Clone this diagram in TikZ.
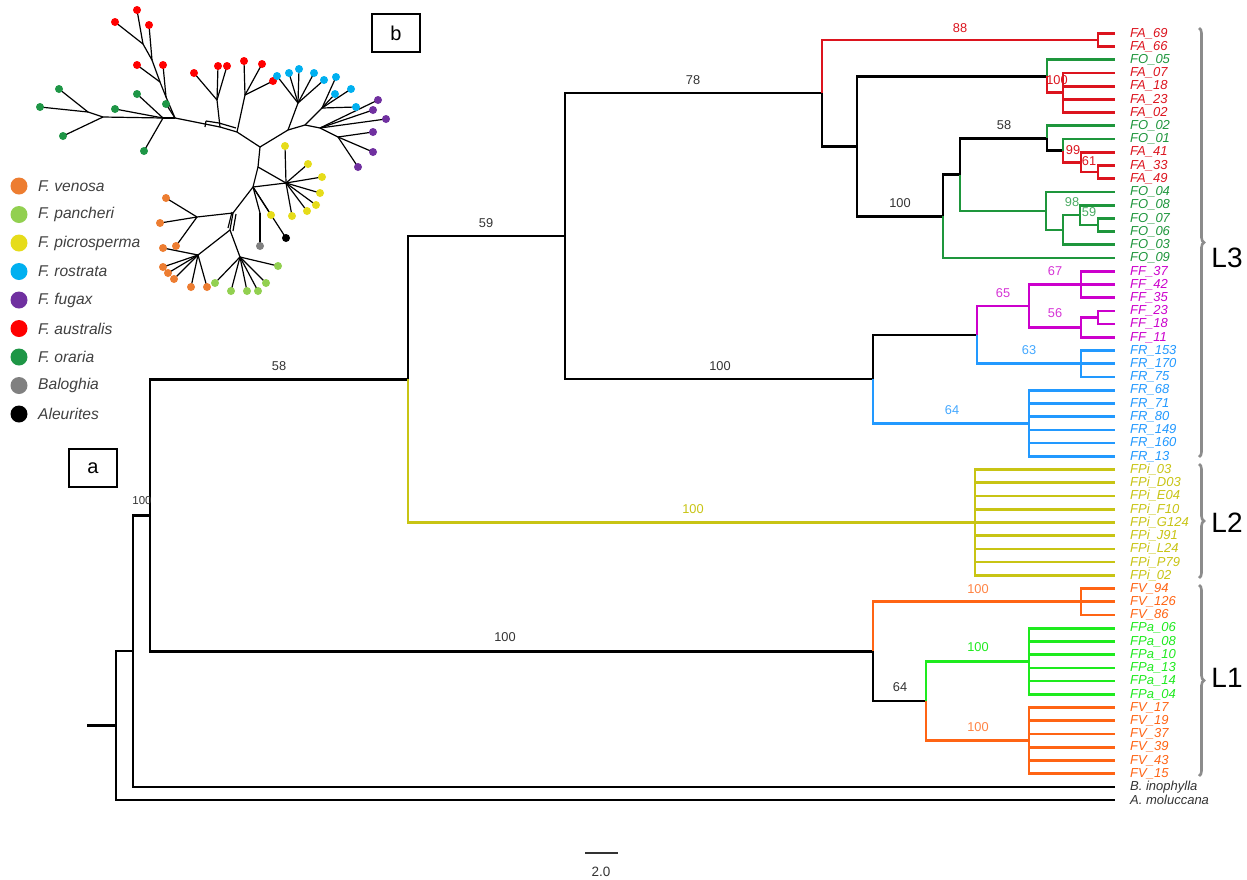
\documentclass[tikz,border=0pt]{standalone}
\usepackage{fontspec}
\setmainfont{Liberation Sans}
\usetikzlibrary{decorations.pathreplacing}
\definecolor{cFA}{HTML}{DC141E}
\definecolor{cFO}{HTML}{1E963C}
\definecolor{cFF}{HTML}{CC00CC}
\definecolor{cFR}{HTML}{2299FF}
\definecolor{cPi}{HTML}{C8C414}
\definecolor{cFV}{HTML}{FF6414}
\definecolor{cPa}{HTML}{1EEB1E}
\definecolor{tipk}{HTML}{333333}
\definecolor{bsk}{HTML}{333333}
\definecolor{brk}{HTML}{8C8C8C}
\definecolor{lgV}{HTML}{ED7D31}
\definecolor{lgP}{HTML}{92D050}
\definecolor{lgY}{HTML}{E6DC1A}
\definecolor{lgR}{HTML}{00B0F0}
\definecolor{lgF}{HTML}{7030A0}
\definecolor{lgA}{HTML}{FF0000}
\definecolor{lgO}{HTML}{1E9646}
\definecolor{lgB}{HTML}{808080}
\definecolor{lgtext}{HTML}{404040}
\begin{document}
\begin{tikzpicture}[x=1pt,y=-1pt,
  br/.style={line width=2.7pt},
  tiplab/.style={anchor=west,inner sep=0pt,font=\fontsize{13}{14}\selectfont\itshape},
  bs/.style={inner sep=0pt,font=\fontsize{12.8}{14}\selectfont},
  lbrace/.style={draw=brk,line width=2.6pt,decorate,decoration={brace,amplitude=5pt}},
  Llab/.style={inner sep=0pt,font=\fontsize{28}{30}\selectfont},
  panel/.style={draw,line width=1.4pt,minimum width=48pt,minimum height=38pt,inner sep=0pt,font=\fontsize{20}{22}\selectfont},
  inl/.style={line width=1.2pt},
  lgtxt/.style={anchor=west,inner sep=0pt,text=lgtext,font=\fontsize{15.6}{17}\selectfont\itshape}]
\useasboundingbox (0,0) rectangle (1247,879);
\fill[white] (0,0) rectangle (1247,879);

% ---------- tips ----------
\foreach \i/\lab/\col in {1/FA\_69/cFA,2/FA\_66/cFA,3/FO\_05/cFO,4/FA\_07/cFA,5/FA\_18/cFA,6/FA\_23/cFA,7/FA\_02/cFA,
 8/FO\_02/cFO,9/FO\_01/cFO,10/FA\_41/cFA,11/FA\_33/cFA,12/FA\_49/cFA,13/FO\_04/cFO,14/FO\_08/cFO,15/FO\_07/cFO,
 16/FO\_06/cFO,17/FO\_03/cFO,18/FO\_09/cFO,19/FF\_37/cFF,20/FF\_42/cFF,21/FF\_35/cFF,22/FF\_23/cFF,23/FF\_18/cFF,
 24/FF\_11/cFF,25/FR\_153/cFR,26/FR\_170/cFR,27/FR\_75/cFR,28/FR\_68/cFR,29/FR\_71/cFR,30/FR\_80/cFR,31/FR\_149/cFR,
 32/FR\_160/cFR,33/FR\_13/cFR,34/FPi\_03/cPi,35/FPi\_D03/cPi,36/FPi\_E04/cPi,37/FPi\_F10/cPi,38/FPi\_G124/cPi,
 39/FPi\_J91/cPi,40/FPi\_L24/cPi,41/FPi\_P79/cPi,42/FPi\_02/cPi,43/FV\_94/cFV,44/FV\_126/cFV,45/FV\_86/cFV,
 46/FPa\_06/cPa,47/FPa\_08/cPa,48/FPa\_10/cPa,49/FPa\_13/cPa,50/FPa\_14/cPa,51/FPa\_04/cPa,52/FV\_17/cFV,
 53/FV\_19/cFV,54/FV\_37/cFV,55/FV\_39/cFV,56/FV\_43/cFV,57/FV\_15/cFV,58/B. inophylla/tipk,59/A. moluccana/tipk}{
  \pgfmathsetmacro\yy{33.3+13.22*(\i-1)}
  \coordinate (t\i) at (1115,\yy);
  \node[tiplab,text=\col] (l\i) at (1130,\yy) {\lab};
}

% ---------- internal nodes ----------
\coordinate (nA1) at (1098,39.91);
\coordinate (nA2) at (1063,92.79);
\coordinate (nA3) at (1047,76.27);
\coordinate (nA4) at (1098,172.11);
\coordinate (nA5) at (1081,162.2);
\coordinate (nA6) at (1063,150.63);
\coordinate (nA7) at (1047,138.24);
\coordinate (nO1) at (1098,224.99);
\coordinate (nO2) at (1080,215.08);
\coordinate (nO3) at (1063,229.95);
\coordinate (nO4) at (1046,210.95);
\coordinate (nB1) at (960,174.6);
\coordinate (nB2) at (943,216.32);
\coordinate (nB3) at (857,146.3);
\coordinate (nB4) at (822,93.1);
\coordinate (nF1) at (1081,284.48);
\coordinate (nF2) at (1098,317.53);
\coordinate (nF3) at (1081,327.45);
\coordinate (nF4) at (1029,305.96);
\coordinate (nR1) at (1081,363.8);
\coordinate (nR2) at (977,334.88);
\coordinate (nR3) at (1029,423.29);
\coordinate (nR4) at (873,379.09);
\coordinate (nL3) at (565,236.1);
\coordinate (nL2) at (975,522.44);
\coordinate (nU) at (408,379.27);
\coordinate (nV1) at (1081,601.76);
\coordinate (nP) at (1029,661.25);
\coordinate (nV2) at (1029,740.57);
\coordinate (nV3) at (926,700.91);
\coordinate (nL1) at (873,651.34);
\coordinate (nI) at (150,515.3);
\coordinate (nO) at (133,651.07);
\coordinate (root) at (116,725.57);
\coordinate (r0) at (87,725.57);

% ---------- branches ----------
\draw[br] (r0) -- (root);
\foreach \p/\c/\col in {root/nO/black,root/t59/black,nO/nI/black,nO/t58/black,nI/nU/black,nI/nL1/black,
  nU/nL3/black,nU/nL2/cPi,nL3/nB4/black,nL3/nR4/black,
  nB4/nA1/cFA,nA1/t1/cFA,nA1/t2/cFA,nB4/nB3/black,nB3/nA3/black,nB3/nB2/black,
  nA3/t3/cFO,nA3/nA2/cFA,nB2/nB1/black,nB2/t18/cFO,nB1/nA7/black,nB1/nO4/cFO,
  nA7/t8/cFO,nA7/nA6/black,nA6/t9/cFO,nA6/nA5/cFA,nA5/t10/cFA,nA5/nA4/cFA,nA4/t11/cFA,nA4/t12/cFA,
  nO4/t13/cFO,nO4/nO3/cFO,nO3/nO2/cFO,nO3/t17/cFO,nO2/t14/cFO,nO2/nO1/cFO,nO1/t15/cFO,nO1/t16/cFO,
  nR4/nR2/black,nR4/nR3/cFR,nR2/nF4/cFF,nR2/nR1/cFR,
  nF4/nF1/cFF,nF4/nF3/cFF,nF3/nF2/cFF,nF3/t24/cFF,nF2/t22/cFF,nF2/t23/cFF,
  nL1/nV1/cFV,nL1/nV3/black,nV3/nP/cPa,nV3/nV2/cFV}{
  \draw[br,\col] (\p) |- (\c);
}
\foreach \i in {4,...,7} \draw[br,cFA] (nA2) |- (t\i);
\foreach \i in {19,20,21} \draw[br,cFF] (nF1) |- (t\i);
\foreach \i in {25,26,27} \draw[br,cFR] (nR1) |- (t\i);
\foreach \i in {28,...,33} \draw[br,cFR] (nR3) |- (t\i);
\foreach \i in {34,...,42} \draw[br,cPi] (nL2) |- (t\i);
\foreach \i in {43,44,45} \draw[br,cFV] (nV1) |- (t\i);
\foreach \i in {46,...,51} \draw[br,cPa] (nP) |- (t\i);
\foreach \i in {52,...,57} \draw[br,cFV] (nV2) |- (t\i);

% ---------- support values ----------
\node[bs,text=bsk] (b1) at (279,366) {58};
\node[bs,text=bsk] (b2) at (486,223) {59};
\node[bs,text=bsk] (b3) at (693,80) {78};
\node[bs,text=cFA] (b4) at (960,28) {88};
\node[bs,text=cFA] (b5) at (1057,80) {100};
\node[bs,text=bsk] (b6) at (1004,125) {58};
\node[bs,text=bsk] (b7) at (900,203) {100};
\node[bs,text=cFA] (b8) at (1073,150) {99};
\node[bs,text=cFA] (b9) at (1089,161) {61};
\node[bs,text=cFO!80!white] (b10) at (1072,202) {98};
\node[bs,text=cFO!80!white] (b11) at (1089,212) {59};
\node[bs,text=bsk] (b12) at (720,366) {100};
\node[bs,text=cFF!80!white] (b13) at (1003,293) {65};
\node[bs,text=cFF!80!white] (b14) at (1055,271) {67};
\node[bs,text=cFF!80!white] (b15) at (1055,313) {56};
\node[bs,text=cFR!85!white] (b16) at (1029,350) {63};
\node[bs,text=cFR!85!white] (b17) at (952,410) {64};
\node[bs,text=cPi] (b18) at (693,509) {100};
\node[bs,text=bsk] (b19) at (505,637) {100};
\node[bs,text=cFV!80!white] (b20) at (978,589) {100};
\node[bs,text=bsk] (b21) at (900,687) {64};
\node[bs,text=cPa] (b22) at (978,647) {100};
\node[bs,text=cFV!80!white] (b23) at (978,727) {100};
\node[bs,text=bsk,font=\fontsize{11.5}{12}\selectfont] (b24) at (142,501) {100};

% ---------- lineage brackets ----------
\draw[lbrace] (1199,28) -- (1199,457);
\draw[lbrace] (1199,464) -- (1199,578);
\draw[lbrace] (1199,585) -- (1199,776);
\node[Llab] (L3) at (1227,258) {L3};
\node[Llab] (L2) at (1227,523) {L2};
\node[Llab] (L1) at (1227,678) {L1};

% ---------- scale bar ----------
\coordinate (s1) at (585,853);
\coordinate (s2) at (618,853);
\draw[line width=1.5pt,black!80] (s1) -- (s2);
\node[bs,text=bsk,font=\fontsize{13.5}{14}\selectfont] (sc) at (601,872) {2.0};

% ---------- panel labels ----------
\node[panel] (pa) at (93,468) {a};
\node[panel] (pb) at (396,33) {b};

% ---------- inset network (panel b) ----------
\begin{scope}[inl]
\coordinate (C) at (260,147);
\coordinate (U1) at (237,132); \coordinate (U2) at (220,127); \coordinate (U4) at (175,118);
\coordinate (U5) at (163,118); \coordinate (G1) at (103,117); \coordinate (G2) at (88,112);
\coordinate (Rn) at (245,95); \coordinate (Rm) at (217,100);
\coordinate (K1) at (166,97); \coordinate (K2) at (160,82); \coordinate (K3) at (152,60); \coordinate (K4) at (143,44);
\coordinate (D1) at (288,130); \coordinate (D2) at (298,103); \coordinate (D3) at (305,125);
\coordinate (D4) at (322,108); \coordinate (D5) at (320,128); \coordinate (D6) at (338,137);
\coordinate (E1) at (258,167); \coordinate (E2) at (253,187); \coordinate (Y) at (286,183);
\coordinate (F1) at (233,213); \coordinate (F2) at (230,230); \coordinate (O1) at (197,217);
\coordinate (O2) at (198,255); \coordinate (LG) at (240,257); \coordinate (E3) at (260,213);
\foreach \a/\b in {C/U1,U1/U2,U2/U4,U4/U5,U5/G1,G1/G2,U1/Rn,U2/Rm,U4/K1,K1/K2,K2/K3,K3/K4,
  C/D1,D1/D2,D1/D3,D3/D4,D3/D5,D5/D6,C/E1,E1/Y,E1/E2,E2/Y,E2/F1,F1/O1,F1/F2,F2/O2,F2/LG,E2/E3}
  \draw (\a) -- (\b);
% reticulate parallel edges
\draw (236,128) -- (219,123) -- (206,121);
\draw (206,121) -- (205,127);
\draw (232,212) -- (228,228);
\draw (236,214) -- (233,231);
\foreach \p/\x/\y in {
  Rn/244/61,Rn/262/64,Rn/273/81,Rm/218/66,Rm/227/66,Rm/194/73,
  K1/163/65,K2/137/65,K3/149/25,K4/137/10,K4/115/22,
  U4/166/104,U5/144/151,U5/137/94,U5/115/109,G2/59/89,G2/40/107,G1/63/136,
  D2/277/76,D2/289/73,D2/299/69,D2/314/73,D2/324/80,
  D4/336/77,D4/335/94,D4/351/89,D4/356/107,
  D5/378/100,D5/373/110,D5/386/119,D6/373/132,D6/373/152,D6/358/167,
  Y/285/146,Y/308/164,Y/322/177,Y/320/193,Y/316/205,Y/307/211,Y/292/216,
  E2/271/215,E2/286/238,E3/260/246,
  O1/166/198,O1/160/223,O1/176/246,
  O2/163/248,O2/163/267,O2/168/273,O2/174/279,O2/191/287,O2/207/287,
  LG/215/283,LG/231/291,LG/247/291,LG/258/291,LG/266/283,LG/278/266}{
  \draw (\p) -- (\x,\y);
}
\foreach \x/\y/\c in {
  244/61/lgA,262/64/lgA,273/81/lgA,218/66/lgA,227/66/lgA,194/73/lgA,
  163/65/lgA,137/65/lgA,149/25/lgA,137/10/lgA,115/22/lgA,
  166/104/lgO,144/151/lgO,137/94/lgO,115/109/lgO,59/89/lgO,40/107/lgO,63/136/lgO,
  277/76/lgR,289/73/lgR,299/69/lgR,314/73/lgR,324/80/lgR,336/77/lgR,335/94/lgR,351/89/lgR,356/107/lgR,
  378/100/lgF,373/110/lgF,386/119/lgF,373/132/lgF,373/152/lgF,358/167/lgF,
  285/146/lgY,308/164/lgY,322/177/lgY,320/193/lgY,316/205/lgY,307/211/lgY,292/216/lgY,
  271/215/lgY,286/238/black,260/246/lgB,
  166/198/lgV,160/223/lgV,176/246/lgV,163/248/lgV,163/267/lgV,168/273/lgV,174/279/lgV,191/287/lgV,207/287/lgV,
  215/283/lgP,231/291/lgP,247/291/lgP,258/291/lgP,266/283/lgP,278/266/lgP}{
  \fill[\c] (\x,\y) circle[radius=4];
}
\end{scope}

% ---------- legend ----------
\foreach \k/\y/\c/\t in {1/186/lgV/F. venosa,2/214.5/lgP/F. pancheri,3/243/lgY/F. picrosperma,
  4/271.5/lgR/F. rostrata,5/300/lgF/F. fugax,6/328.5/lgA/F. australis,7/357/lgO/F. oraria,
  8/385.5/lgB/Baloghia,9/414/black/Aleurites}{
  \fill[\c] (19,\y) circle[radius=8.5];
  \node[lgtxt] (lg\k) at (38,\y) {\t};
}
\end{tikzpicture}
\end{document}
